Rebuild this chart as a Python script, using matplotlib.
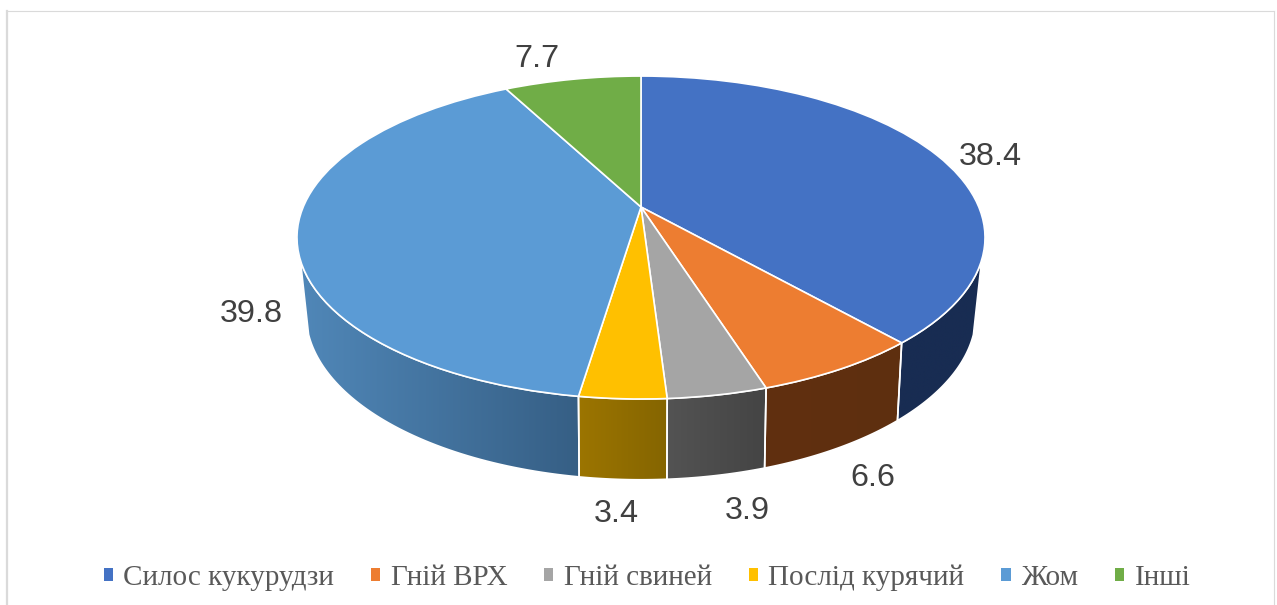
import numpy as np
import matplotlib
matplotlib.use("Agg")
import matplotlib.pyplot as plt
from matplotlib.patches import Polygon
from matplotlib.transforms import Transform

categories = ["Силос кукурудзи", "Гній ВРХ", "Гній свиней", "Послід курячий", "Жом", "Інші"]
values = [38.4, 6.6, 3.9, 3.4, 39.8, 7.7]
colors = ["#4472C4", "#ED7D31", "#A5A5A5", "#FFC000", "#5B9BD5", "#70AD47"]
# side wall colours, left and right end of the gradient
side_left = ["#182C52", "#61300F", "#535353", "#9C7500", "#5087B8", "#44682B"]
side_right = ["#182C52", "#5E2F10", "#444444", "#856500", "#365F85", "#44682B"]
label_pos = [(990, 157), (873, 478), (747, 511), (616, 514), (251, 314), (537, 59)]

# perspective of the disc, in pixels: x centre, y centre, x scale, y scale, depth factor
TOP = (641, 207, 337.8, 155.7, 0.189)
BOTTOM = (641, 280, 328, 159, 0.204)
# clockwise from 12 o'clock, the part of the wall that can be seen
VISIBLE = (108.7, 251.3)


def project(x, y, disc):
    cx, cy, b, a, p = disc
    w = 1 / (1 + p * y)
    return cx + b * x * w, cy - a * y * w


class DiscTransform(Transform):
    input_dims = 2
    output_dims = 2
    is_separable = False
    has_inverse = False

    def transform_non_affine(self, values):
        values = np.asarray(values)
        xs, ys = project(values[:, 0], values[:, 1], TOP)
        return np.column_stack((xs, ys))


def arc(start, stop, disc):
    t = np.radians(np.linspace(start, stop, 60))
    return np.column_stack(project(np.sin(t), np.cos(t), disc))


fig = plt.figure(figsize=(12.77, 6.05), dpi=100)
ax = fig.add_axes([0, 0, 1, 1])

wedges, _ = ax.pie(values, labels=categories, labeldistance=None, colors=colors,
                   startangle=90, counterclock=False,
                   wedgeprops=dict(transform=DiscTransform() + ax.transData,
                                   edgecolor="white", linewidth=1.2, zorder=3))

# side wall of the pie
edges = 360 * np.cumsum([0] + values) / sum(values)
for i in range(len(values)):
    start = max(edges[i], VISIBLE[0])
    stop = min(edges[i + 1], VISIBLE[1])
    if stop <= start:
        continue
    outline = np.vstack((arc(start, stop, TOP), arc(stop, start, BOTTOM)))
    wall = Polygon(outline, closed=True, facecolor="none", edgecolor="white", linewidth=1.2, zorder=2)
    ax.add_patch(wall)
    left = matplotlib.colors.to_rgb(side_left[i])
    right = matplotlib.colors.to_rgb(side_right[i])
    gradient = np.linspace(left, right, 128)[np.newaxis, :, :]
    im = ax.imshow(gradient, extent=(outline[:, 0].min(), outline[:, 0].max(),
                                     outline[:, 1].max(), outline[:, 1].min()),
                   aspect="auto", zorder=1, interpolation="bilinear")
    im.set_clip_path(wall)

ax.set_aspect("auto")
ax.set_xlim(0, 1277)
ax.set_ylim(605, 0)
ax.axis("off")

for value, (x, y) in zip(values, label_pos):
    ax.text(x, y, str(value), ha="center", va="center", fontsize=23.3,
            family="Liberation Sans", color="#404040")

leg = ax.legend(handles=wedges, loc="center", bbox_to_anchor=(647, 578),
                bbox_transform=ax.transData, ncols=6, frameon=False, borderpad=0,
                handlelength=0.31, handleheight=0.31, handletextpad=0.36, columnspacing=1.27,
                prop=dict(family="Liberation Serif", size=21), labelcolor="#595959")
for handle in leg.legend_handles:
    handle.set_linewidth(0)

# chart frame, the bottom edge is cut off in the source
ax.plot([6.5, 6.5], [10.5, 605], color="#DADADA", lw=1.6, clip_on=False)
ax.plot([6.5, 1274], [10.5, 10.5], color="#DADADA", lw=0.8, clip_on=False)
ax.plot([1274, 1274], [10.5, 605], color="#DADADA", lw=0.8, clip_on=False)

fig.savefig("out.png", dpi=100)
